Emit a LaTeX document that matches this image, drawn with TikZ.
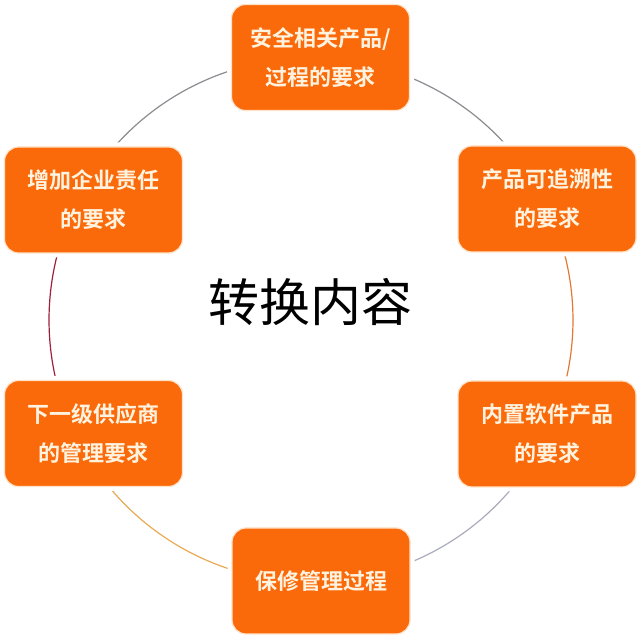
\documentclass[tikz,border=0pt]{standalone}
\usepackage{fontspec}
\newfontfamily\cjk{Noto Sans CJK SC}
\newfontfamily\cjkb{Noto Sans CJK SC Bold}
\definecolor{boxfill}{RGB}{250,106,10}
\definecolor{boxedge}{RGB}{255,226,200}
\definecolor{boxtext}{RGB}{255,243,224}
\definecolor{arcgray}{RGB}{140,140,145}
\definecolor{arcblue}{RGB}{170,172,188}
\definecolor{arcorange}{RGB}{228,120,50}
\definecolor{arcgold}{RGB}{232,170,85}
\definecolor{arcred}{RGB}{160,30,60}
\begin{document}
\begin{tikzpicture}[x=1pt,y=1pt,
  itembox/.style={rectangle, rounded corners=14pt, fill=boxfill, draw=boxedge, line width=1.2pt,
    minimum width=178pt, minimum height=106pt, align=center, text=boxtext,
    font=\cjkb\fontsize{22}{39}\selectfont,
    preaction={draw=white, line width=9pt}},
  ring/.style={line width=1.2pt}]
\useasboundingbox (0,0) rectangle (640,640);
\fill[white] (0,0) rectangle (640,640);
\coordinate (c) at (311,320);
% arcs
\draw[ring, arcgray]   ([shift={(150.8:262)}]c) arc[start angle=150.8, end angle=88, radius=262];
\draw[ring, arcgray]   ([shift={(88:262)}]c) arc[start angle=88, end angle=27.4, radius=262];
\draw[ring, arcorange] ([shift={(27.4:262)}]c) arc[start angle=27.4, end angle=-25.7, radius=262];
\draw[ring, arcblue]   ([shift={(-25.7:262)}]c) arc[start angle=-25.7, end angle=-88, radius=262];
\draw[ring, arcgold]   ([shift={(-88:262)}]c) arc[start angle=-88, end angle=-152.6, radius=262];
\draw[ring, arcred]    ([shift={(207.4:262)}]c) arc[start angle=207.4, end angle=150.8, radius=262];
% boxes
\node[itembox] (top) at (320.5,582.5) {\raisebox{-2pt}{\parbox{170pt}{\centering 安全相关产品/\\过程的要求}}};
\node[itembox] (ur) at (547,441) {\raisebox{-2pt}{\parbox{170pt}{\centering 产品可追溯性\\的要求}}};
\node[itembox] (lr) at (547,206) {\raisebox{-2pt}{\parbox{170pt}{\centering 内置软件产品\\的要求}}};
\node[itembox] (bot) at (321,59) {保修管理过程};
\node[itembox] (ll) at (93.5,206.5) {\raisebox{-2pt}{\parbox{170pt}{\centering 下一级供应商\\的管理要求}}};
\node[itembox] (ul) at (93.5,440) {\raisebox{-2pt}{\parbox{170pt}{\centering 增加企业责任\\的要求}}};
% centre
\node[font=\cjk\fontsize{51}{58}\selectfont, text=black] (title) at (310,338) {转换内容};
\end{tikzpicture}
\end{document}
